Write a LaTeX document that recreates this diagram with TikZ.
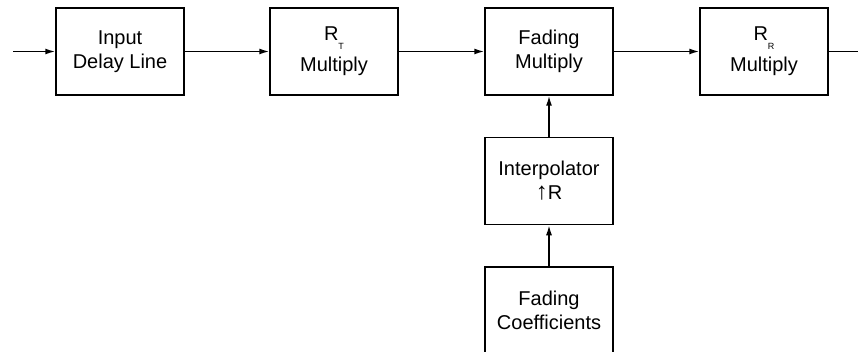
\documentclass[tikz,border=0pt]{standalone}
\usepackage{fontspec}
\setmainfont{Liberation Sans}
\usepackage{tikz}
\usetikzlibrary{arrows.meta,positioning}
\tikzset{
  block/.style={draw=black, line width=1.5pt,
                minimum width=128pt, minimum height=87pt,
                align=center, font=\fontsize{20}{24}\selectfont},
  flow/.style={line width=1.5pt, -{Latex[length=10pt,width=6pt]}}
}
\newcommand{\SubTag}[1]{\raisebox{-9pt}{\fontsize{9}{9}\selectfont #1}}

\begin{document}
\begin{tikzpicture}[x=1pt,y=1pt]
  \useasboundingbox (0,0) rectangle (858,351);
  \clip (0,0) rectangle (858,351);
  % main signal path
  \node[block] (delay)  at (120,299.5) {Input\\Delay Line};
  \node[block] (rtx)    at (334,299.5) {R\SubTag{T}\\[7pt]Multiply};
  \node[block] (fade)   at (549,299.5) {Fading\\Multiply};
  \node[block] (rrx)    at (764,299.5) {R\SubTag{R}\\[7pt]Multiply};
  % fading branch
  \node[block] (interp) at (549,170)   {Interpolator\\{\fontsize{24}{24}\selectfont↑}R};
  \node[block] (coeff)  at (549,40.5)  {Fading\\Coefficients};
  % free ends
  \coordinate (src) at (13,299.5);
  \coordinate (snk) at (868,299.5);
  % connectors
  \draw[flow] (src) -- (delay);
  \draw[flow] (delay) -- (rtx);
  \draw[flow] (rtx) -- (fade);
  \draw[flow] (fade) -- (rrx);
  \draw[flow] (rrx) -- (snk);
  \draw[flow] (coeff) -- (interp);
  \draw[flow] (interp) -- (fade);
\end{tikzpicture}
\end{document}
